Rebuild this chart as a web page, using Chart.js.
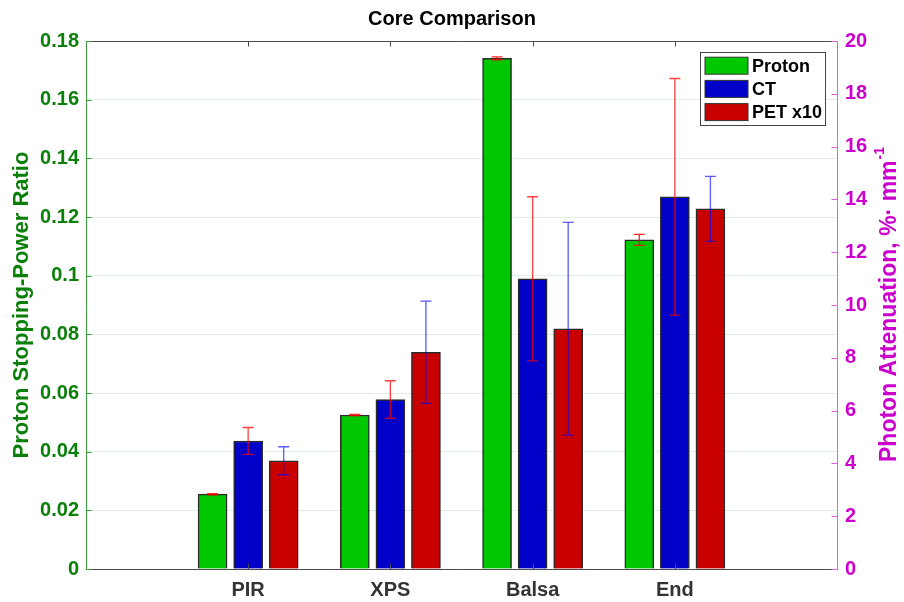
<!DOCTYPE html>
<html>
<head>
<meta charset="utf-8">
<script src="https://cdn.jsdelivr.net/npm/chart.js@4.4.1/dist/chart.umd.min.js"></script>
<style>
  html, body { margin: 0; padding: 0; background: #fff; }
  #wrap { width: 904px; height: 602px; }
</style>
</head>
<body>
<div id="wrap"><canvas id="chart" width="904" height="602"></canvas></div>
<script>
// Core materials compared
const categories = ['PIR', 'XPS', 'Balsa', 'End'];

// Proton stopping-power ratio (left axis) and its uncertainty
const protonRatio = [0.0255, 0.0525, 0.1741, 0.1122];
const protonErr   = [0.0002, 0.0002, 0.0005, 0.0019];

// Photon attenuation, %·mm^-1 (right axis) and uncertainties
const ctAttenuation  = [4.85, 6.42, 10.99, 14.10];
const ctErr          = [0.51, 0.71, 3.11, 4.48];
const petAttenuation = [4.10, 8.21, 9.10, 13.64];
const petErr         = [0.53, 1.94, 4.03, 1.23];

// Tick values
const leftTicks  = [0, 0.02, 0.04, 0.06, 0.08, 0.1, 0.12, 0.14, 0.16, 0.18];
const rightTicks = [0, 2, 4, 6, 8, 10, 12, 14, 16, 18, 20];

const FONT = '"Liberation Sans", Arial, Helvetica, sans-serif';
const GREEN_TEXT = 'rgb(10,128,10)';
const MAGENTA_TEXT = 'rgb(204,0,204)';
Chart.defaults.font.family = FONT;

// bars of a group sit side by side around the category position
function barPoints(values, shift) {
  return values.map((v, i) => ({ x: i + 1 + shift, y: v }));
}

const barStyle = {
  borderColor: '#2a2a2a',
  borderWidth: 1.5,
  barThickness: 29,
  grouped: false,
};

// error bars drawn over the bars, using each dataset's own y scale
const errorBars = {
  id: 'errorBars',
  afterDatasetsDraw(chart) {
    const ctx = chart.ctx;
    chart.data.datasets.forEach((ds, di) => {
      const meta = chart.getDatasetMeta(di);
      const ys = chart.scales[ds.yAxisID];
      ctx.save();
      ctx.strokeStyle = ds.errorColor;
      ctx.lineWidth = 1.3;
      meta.data.forEach((bar, j) => {
        const v = ds.data[j].y, e = ds.errors[j];
        const yTop = ys.getPixelForValue(v + e);
        const yBot = ys.getPixelForValue(v - e);
        const x = bar.x, cap = 5.5;
        ctx.beginPath();
        ctx.moveTo(x, yTop); ctx.lineTo(x, yBot);
        ctx.moveTo(x - cap, yTop); ctx.lineTo(x + cap, yTop);
        ctx.moveTo(x - cap, yBot); ctx.lineTo(x + cap, yBot);
        ctx.stroke();
      });
      ctx.restore();
    });
  }
};

// box, inward tick marks, legend and right-hand axis title
const frame = {
  id: 'frame',
  afterDatasetsDraw(chart) {
    const ctx = chart.ctx;
    const { left, right, top, bottom } = chart.chartArea;
    const xs = chart.scales.x, yl = chart.scales.y, yr = chart.scales.y1;
    const tick = 5.5;
    ctx.save();
    ctx.lineWidth = 1;

    // top and bottom lines with category ticks
    ctx.strokeStyle = '#4a4a4a';
    ctx.beginPath();
    ctx.moveTo(left, top + 0.5); ctx.lineTo(right, top + 0.5);
    ctx.moveTo(left, bottom + 0.5); ctx.lineTo(right, bottom + 0.5);
    categories.forEach((c, i) => {
      const x = Math.round(xs.getPixelForValue(i + 1)) + 0.5;
      ctx.moveTo(x, bottom); ctx.lineTo(x, bottom - tick);
      ctx.moveTo(x, top); ctx.lineTo(x, top + tick);
    });
    ctx.stroke();

    // left axis
    ctx.strokeStyle = '#3a9e3a';
    ctx.beginPath();
    ctx.moveTo(left + 0.5, top); ctx.lineTo(left + 0.5, bottom + 1);
    leftTicks.forEach(v => {
      const y = Math.round(yl.getPixelForValue(v)) + 0.5;
      ctx.moveTo(left, y); ctx.lineTo(left + tick, y);
    });
    ctx.stroke();

    // right axis
    ctx.strokeStyle = '#e060e0';
    ctx.beginPath();
    ctx.moveTo(right + 0.5, top); ctx.lineTo(right + 0.5, bottom + 1);
    rightTicks.forEach(v => {
      const y = Math.round(yr.getPixelForValue(v)) + 0.5;
      ctx.moveTo(right, y); ctx.lineTo(right - tick, y);
    });
    ctx.stroke();

    // legend
    const lx = 700.5, ly = 52.5, lw = 125, lh = 73;
    ctx.fillStyle = '#fff';
    ctx.fillRect(lx, ly, lw, lh);
    ctx.strokeStyle = '#444';
    ctx.strokeRect(lx, ly, lw, lh);
    ctx.font = 'bold 18px ' + FONT;
    ctx.textBaseline = 'middle';
    ctx.textAlign = 'left';
    chart.data.datasets.forEach((ds, i) => {
      const cy = 65.7 + i * 23.2;
      ctx.fillStyle = ds.backgroundColor;
      ctx.fillRect(705, cy - 8.5, 43, 17);
      ctx.strokeStyle = '#333';
      ctx.strokeRect(705, cy - 8.5, 43, 17);
      ctx.fillStyle = '#000';
      ctx.fillText(ds.label, 752, cy + 1);
    });

    // right axis title, reading upward, with superscript
    const main = 'Photon Attenuation, %\u00B7 mm';
    const sup = '-1';
    ctx.translate(889, (top + bottom) / 2);
    ctx.rotate(-Math.PI / 2);
    ctx.font = 'bold 23px ' + FONT;
    const w1 = ctx.measureText(main).width;
    ctx.font = 'bold 14px ' + FONT;
    const w2 = ctx.measureText(sup).width;
    const x0 = -(w1 + w2) / 2;
    ctx.fillStyle = MAGENTA_TEXT;
    ctx.font = 'bold 23px ' + FONT;
    ctx.fillText(main, x0, 1);
    ctx.font = 'bold 14px ' + FONT;
    ctx.fillText(sup, x0 + w1 + 1, -9);
    ctx.restore();
  }
};

new Chart(document.getElementById('chart'), {
  type: 'bar',
  data: {
    datasets: [
      Object.assign({
        label: 'Proton',
        data: barPoints(protonRatio, -0.25),
        yAxisID: 'y',
        backgroundColor: 'rgb(0,200,0)',
        errors: protonErr,
        errorColor: 'rgba(255,0,0,0.85)',
      }, barStyle),
      Object.assign({
        label: 'CT',
        data: barPoints(ctAttenuation, 0),
        yAxisID: 'y1',
        backgroundColor: 'rgb(0,0,200)',
        errors: ctErr,
        errorColor: 'rgba(255,0,0,0.75)',
      }, barStyle),
      Object.assign({
        label: 'PET x10',
        data: barPoints(petAttenuation, 0.25),
        yAxisID: 'y1',
        backgroundColor: 'rgb(200,0,0)',
        errors: petErr,
        errorColor: 'rgba(0,0,255,0.65)',
      }, barStyle),
    ],
  },
  options: {
    responsive: false,
    animation: false,
    devicePixelRatio: 1,
    layout: { padding: 0 },
    plugins: {
      legend: { display: false },
      tooltip: { enabled: false },
      title: {
        display: true,
        text: 'Core Comparison',
        color: '#000',
        font: { size: 20, weight: 'bold', family: FONT },
        padding: { top: 7, bottom: 10 },
      },
    },
    scales: {
      x: {
        type: 'linear',
        offset: false,
        min: -0.14,
        max: 5.14,
        afterBuildTicks(s) { s.ticks = categories.map((c, i) => ({ value: i + 1 })); },
        afterFit(s) { s.height = 33; },
        grid: { display: false, drawTicks: false, offset: false },
        border: { display: false },
        ticks: {
          autoSkip: false,
          maxRotation: 0,
          padding: 9,
          color: '#333',
          font: { size: 20, weight: 'bold', family: FONT },
          callback: (v, i) => categories[i],
        },
      },
      y: {
        position: 'left',
        min: 0,
        max: 0.18,
        afterBuildTicks(s) { s.ticks = leftTicks.map(v => ({ value: v })); },
        afterFit(s) { s.width = 86; },
        grid: { color: 'rgba(0,140,0,0.13)', drawTicks: false },
        border: { display: false },
        ticks: {
          padding: 7,
          color: GREEN_TEXT,
          font: { size: 20, weight: 'bold', family: FONT },
          callback: v => String(v),
        },
        title: {
          display: true,
          text: 'Proton Stopping-Power Ratio',
          color: GREEN_TEXT,
          font: { size: 22, weight: 'bold', family: FONT },
          padding: { top: 9, bottom: 0 },
        },
      },
      y1: {
        position: 'right',
        min: 0,
        max: 20,
        afterBuildTicks(s) { s.ticks = rightTicks.map(v => ({ value: v })); },
        afterFit(s) { s.width = 67; },
        grid: { drawOnChartArea: false, drawTicks: false },
        border: { display: false },
        ticks: {
          padding: 8,
          color: MAGENTA_TEXT,
          font: { size: 20, weight: 'bold', family: FONT },
          callback: v => String(v),
        },
      },
    },
  },
  plugins: [errorBars, frame],
});
</script>
</body>
</html>
